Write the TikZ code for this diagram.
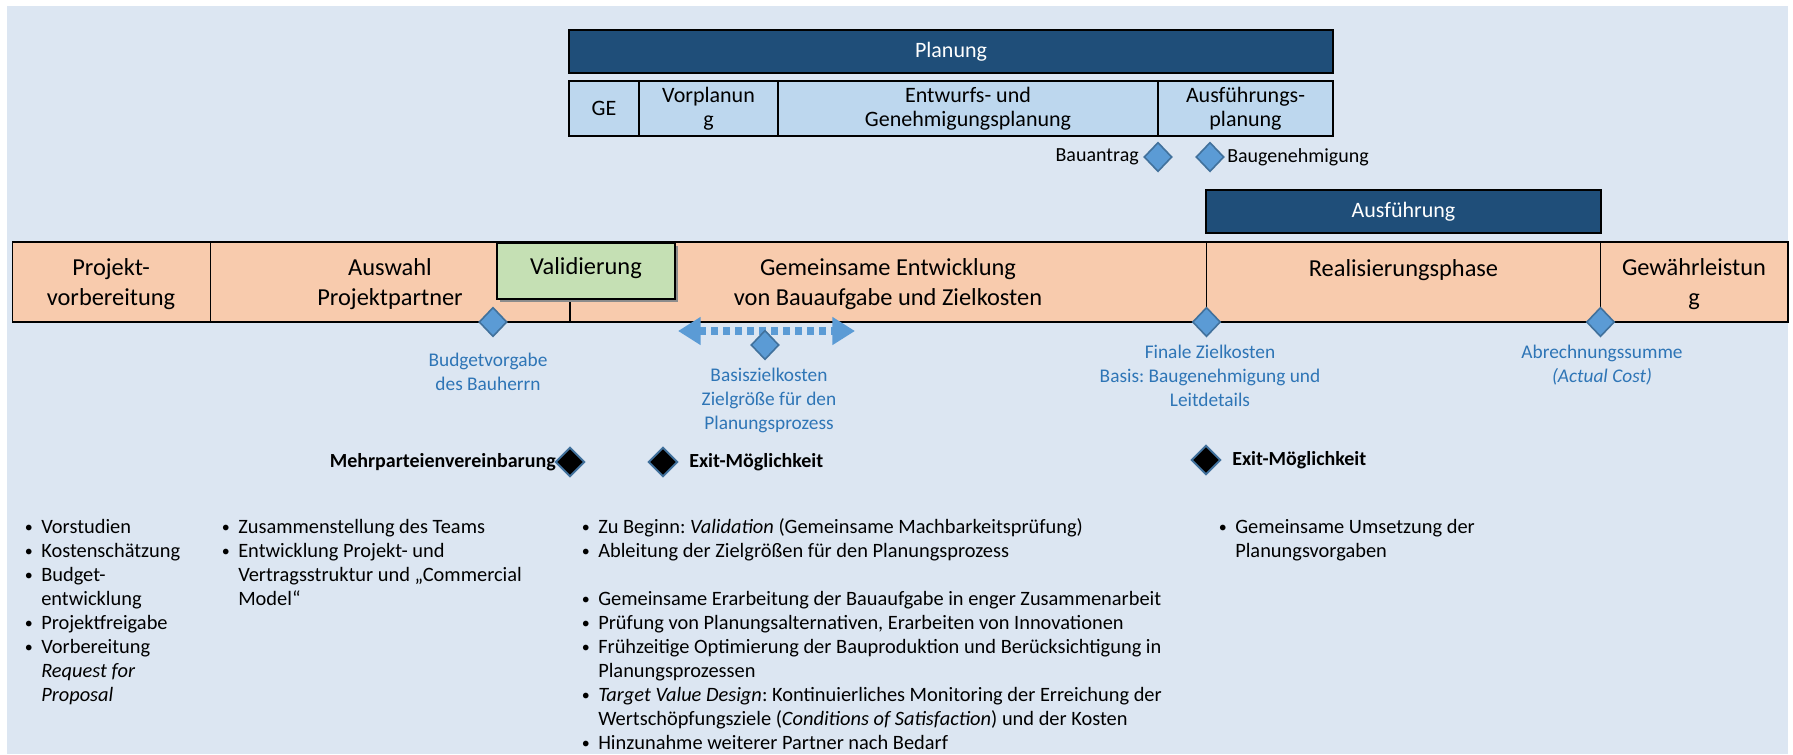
\documentclass[tikz,border=0pt]{standalone}
\usepackage{fontspec}
\setmainfont{Carlito}
\usetikzlibrary{shapes.geometric,arrows.meta}
\definecolor{bg}{HTML}{DCE6F2}
\definecolor{navy}{HTML}{1F4E79}
\definecolor{lblue}{HTML}{BDD7EE}
\definecolor{peach}{HTML}{F8CBAD}
\definecolor{lgreen}{HTML}{C5E0B4}
\definecolor{dfill}{HTML}{5B9BD5}
\definecolor{dline}{HTML}{41719C}
\definecolor{btext}{HTML}{2E75B6}
\newcommand{\mybul}{\makebox[9.75pt][l]{\hspace{-2.5pt}\raisebox{0.3pt}{\fontsize{12}{12}\selectfont\textbullet}}}
\newcommand{\mycont}{\hspace*{9.75pt}}
\frenchspacing
\begin{document}
\begin{tikzpicture}[x=0.75pt,y=-0.75pt,
 box/.style={draw=black, line width=1.2pt},
 phase/.style={font=\fontsize{18.3}{22}\selectfont, align=center, anchor=base, inner sep=0},
 sub/.style={font=\fontsize{16.5}{18}\selectfont, align=center, inner sep=0},
 head/.style={font=\fontsize{16.5}{19}\selectfont, text=white, inner sep=0},
 ms/.style={diamond, draw=dline, fill=dfill, line width=1.2pt, minimum width=21pt, minimum height=22pt, inner sep=0},
 exitd/.style={diamond, draw=dline, fill=black, line width=1.5pt, minimum width=22pt, minimum height=22pt, inner sep=0},
 blab/.style={font=\fontsize{14.5}{18}\selectfont, text=btext, align=center, anchor=base, inner sep=0},
 small/.style={font=\fontsize{15}{17}\selectfont, inner sep=0},
 boldlab/.style={font=\fontsize{15}{18}\selectfont\bfseries, inner sep=0},
 blist/.style={font=\fontsize{15.3}{18}\selectfont, align=left, anchor=base west, inner sep=0},
]
\useasboundingbox (0,0) rectangle (1793,754);
\fill[white] (0,0) rectangle (1793,754);
\fill[bg] (7,6) rectangle (1788,754);

% Planung
\draw[box, fill=navy] (569,30) rectangle (1333,73);
\node[head] (planung) at (951,51.5) {Planung};
\draw[box, fill=lblue] (569,81) rectangle (1333,136);
\draw[box] (639,81) -- (639,136) (778,81) -- (778,136) (1158,81) -- (1158,136);
\node[sub] (ge) at (604,108.5) {GE};
\node[sub] (vp) at (708.5,108.5) {Vorplanun\\g};
\node[sub] (ew) at (968,108.5) {Entwurfs- und\\Genehmigungsplanung};
\node[sub] (ap) at (1245.5,108.5) {Ausführungs-\\planung};

% Bauantrag / Baugenehmigung
\node[ms] (bauantrag) at (1158,157) {};
\node[ms] (baugen) at (1210,157) {};
\node[small, anchor=east] (tbauantrag) at (1139,157) {Bauantrag};
\node[small, anchor=west] (tbaugen) at (1227,157) {Baugenehmigung};

% Ausfuehrung
\draw[box, fill=navy] (1206,190) rectangle (1601,233);
\node[head] (ausf) at (1403.5,211.5) {Ausführung};

% phase bar
\draw[box, fill=peach] (12.6,242) rectangle (210.5,322);
\draw[box, fill=peach] (210.5,242) rectangle (570,322);
\draw[box, fill=peach] (570,242) rectangle (1206.5,322);
\draw[box, fill=peach] (1206.5,242) rectangle (1600.5,322);
\draw[box, fill=peach] (1600.5,242) rectangle (1788,322);
\fill[black!45] (500,246) rectangle (678,302);
\draw[box, fill=lgreen] (497,243) rectangle (675,299);

\node[phase] (p1) at (111,305.3) {Projekt-\\vorbereitung};
\node[phase] (p2) at (390,305.3) {Auswahl\\Projektpartner};
\node[phase] (pv) at (586,274) {Validierung};
\node[phase] (p3) at (888,305.3) {Gemeinsame Entwicklung\\von Bauaufgabe und Zielkosten};
\node[phase] (p4) at (1403.5,276) {Realisierungsphase};
\node[phase] (p5) at (1694,305.3) {Gewährleistun\\g};

% milestones
\coordinate (arrL) at (678,331);
\coordinate (arrR) at (855,331);
\draw[dfill, line width=5.5pt, dash pattern=on 5.25pt off 3.75pt,
  {Triangle[length=17pt,width=20pt]}-{Triangle[length=17pt,width=20pt]}] (arrL) -- (arrR);
\node[ms] (m1) at (493,322) {};
\node[ms] (m2) at (765,345) {};
\node[ms] (m3) at (1206.5,322) {};
\node[ms] (m4) at (1600.5,322) {};

\node[blab] (l1) at (488,390) {Budgetvorgabe\\des Bauherrn};
\node[blab] (l2) at (769,429) {Basiszielkosten\\Zielgröße für den\\Planungsprozess};
\node[blab] (l3) at (1210,406) {Finale Zielkosten\\Basis: Baugenehmigung und\\Leitdetails};
\node[blab] (l4) at (1602,382) {Abrechnungssumme\\\textit{(Actual Cost)}};

% exit options
\node[exitd] (x0) at (570,462) {};
\node[boldlab, anchor=east] (tx0) at (556,462) {Mehrparteienvereinbarung};
\node[exitd] (x1) at (663,462) {};
\node[boldlab, anchor=west] (tx1) at (689,462) {Exit-Möglichkeit};
\node[exitd] (x2) at (1206,460) {};
\node[boldlab, anchor=west] (tx2) at (1232,460) {Exit-Möglichkeit};

% bullet lists
\node[blist] (c1) at (28,701) {\mybul Vorstudien\\ \mybul Kostenschätzung\\ \mybul Budget-\\ \mycont entwicklung\\ \mybul Projektfreigabe\\ \mybul Vorbereitung\\ \mycont\textit{Request for}\\ \mycont\textit{Proposal}};
\node[blist] (c2) at (225,605) {\mybul Zusammenstellung des Teams\\ \mybul Entwicklung Projekt- und\\ \mycont Vertragsstruktur und „Commercial\\ \mycont Model“};
\node[blist] (c3) at (585,749) {\mybul Zu Beginn: \textit{Validation} (Gemeinsame Machbarkeitsprüfung)\\
 \mybul Ableitung der Zielgrößen für den Planungsprozess\\[18pt]
 \mybul Gemeinsame Erarbeitung der Bauaufgabe in enger Zusammenarbeit\\
 \mybul Prüfung von Planungsalternativen, Erarbeiten von Innovationen\\
 \mybul Frühzeitige Optimierung der Bauproduktion und Berücksichtigung in\\
 \mycont Planungsprozessen\\
 \mybul \textit{Target Value Design}: Kontinuierliches Monitoring der Erreichung der\\
 \mycont Wertschöpfungsziele (\textit{Conditions of Satisfaction}) und der Kosten\\
 \mybul Hinzunahme weiterer Partner nach Bedarf};
\node[blist] (c4) at (1222,557) {\mybul Gemeinsame Umsetzung der\\ \mycont Planungsvorgaben};
\end{tikzpicture}
\end{document}
